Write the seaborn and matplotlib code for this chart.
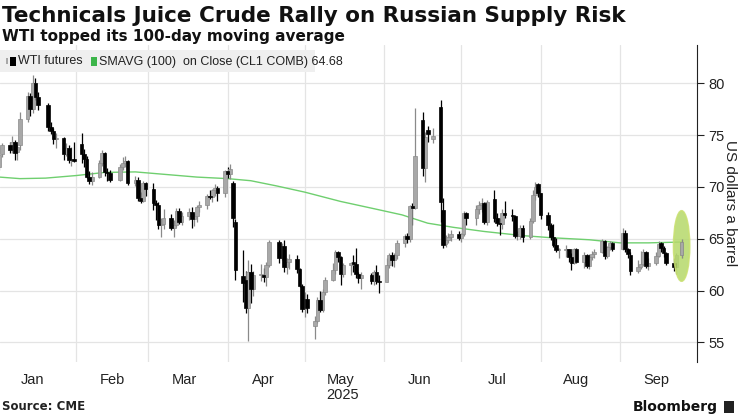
import seaborn as sns
import pandas as pd
import numpy as np
import matplotlib.pyplot as plt
import matplotlib.dates as mdates
from matplotlib.patches import Rectangle, Ellipse

# daily WTI candles (open, high, low, close)
dates = ['2025-01-02', '2025-01-03', '2025-01-06', '2025-01-07', '2025-01-08', '2025-01-09', '2025-01-10',
         '2025-01-13', '2025-01-14', '2025-01-15', '2025-01-16', '2025-01-17', '2025-01-21', '2025-01-22',
         '2025-01-23', '2025-01-24', '2025-01-27', '2025-01-28', '2025-01-29', '2025-01-30', '2025-01-31',
         '2025-02-03', '2025-02-04', '2025-02-05', '2025-02-06', '2025-02-07', '2025-02-10', '2025-02-11',
         '2025-02-12', '2025-02-13', '2025-02-14', '2025-02-18', '2025-02-19', '2025-02-20', '2025-02-21',
         '2025-02-24', '2025-02-25', '2025-02-26', '2025-02-27', '2025-02-28',
         '2025-03-03', '2025-03-04', '2025-03-05', '2025-03-06', '2025-03-07', '2025-03-10', '2025-03-11',
         '2025-03-12', '2025-03-13', '2025-03-14', '2025-03-17', '2025-03-18', '2025-03-19', '2025-03-20',
         '2025-03-21', '2025-03-24', '2025-03-25', '2025-03-26', '2025-03-27', '2025-03-28', '2025-03-31',
         '2025-04-01', '2025-04-02', '2025-04-03', '2025-04-04', '2025-04-07', '2025-04-08', '2025-04-09',
         '2025-04-10', '2025-04-11', '2025-04-14', '2025-04-15', '2025-04-16', '2025-04-17', '2025-04-21',
         '2025-04-22', '2025-04-23', '2025-04-24', '2025-04-25', '2025-04-28', '2025-04-29', '2025-04-30',
         '2025-05-01', '2025-05-02', '2025-05-05', '2025-05-06', '2025-05-07', '2025-05-08', '2025-05-09',
         '2025-05-12', '2025-05-13', '2025-05-14', '2025-05-15', '2025-05-16', '2025-05-19', '2025-05-20',
         '2025-05-21', '2025-05-22', '2025-05-23', '2025-05-27', '2025-05-28', '2025-05-29', '2025-05-30',
         '2025-06-02', '2025-06-03', '2025-06-04', '2025-06-05', '2025-06-06', '2025-06-09', '2025-06-10',
         '2025-06-11', '2025-06-12', '2025-06-13', '2025-06-16', '2025-06-17', '2025-06-18', '2025-06-20',
         '2025-06-23', '2025-06-24', '2025-06-25', '2025-06-26', '2025-06-27', '2025-06-30',
         '2025-07-01', '2025-07-02', '2025-07-03', '2025-07-07', '2025-07-08', '2025-07-09', '2025-07-10',
         '2025-07-11', '2025-07-14', '2025-07-15', '2025-07-16', '2025-07-17', '2025-07-18', '2025-07-21',
         '2025-07-22', '2025-07-23', '2025-07-24', '2025-07-25', '2025-07-28', '2025-07-29', '2025-07-30',
         '2025-07-31',
         '2025-08-01', '2025-08-04', '2025-08-05', '2025-08-06', '2025-08-07', '2025-08-08', '2025-08-11',
         '2025-08-12', '2025-08-13', '2025-08-14', '2025-08-15', '2025-08-18', '2025-08-19', '2025-08-20',
         '2025-08-21', '2025-08-22', '2025-08-25', '2025-08-26', '2025-08-27', '2025-08-28', '2025-08-29',
         '2025-09-02', '2025-09-03', '2025-09-04', '2025-09-05', '2025-09-08', '2025-09-09', '2025-09-10',
         '2025-09-11', '2025-09-12', '2025-09-15', '2025-09-16', '2025-09-17', '2025-09-18', '2025-09-19',
         '2025-09-22', '2025-09-23', '2025-09-25']

opens = [71.9, 73.2, 74.0, 73.7, 74.3, 73.4, 74.0, 76.6, 78.8, 77.5, 80.0, 78.7, 77.9, 75.8,
         75.4, 74.6, 74.7, 73.2, 73.8, 72.6, 72.7,
         74.1, 73.2, 72.7, 71.0, 70.6, 71.0, 72.3, 73.3, 71.4, 71.3, 70.7, 71.9, 72.3, 72.5,
         70.4, 70.7, 68.9, 68.6, 70.4,
         69.8, 68.4, 68.3, 66.3, 66.4, 67.0, 66.0, 66.3, 67.7, 66.6, 67.2, 67.6, 66.9, 67.2,
         68.1, 68.3, 69.1, 69.0, 69.7, 69.9, 69.4,
         71.5, 71.2, 70.4, 66.6, 61.4, 61.0, 58.3, 61.8, 60.1, 61.5, 61.5, 61.3, 62.5, 64.7,
         63.1, 64.3, 62.3, 62.8, 63.0, 62.1, 60.4,
         58.2, 59.2, 56.6, 57.1, 59.1, 58.1, 59.9, 61.0, 62.0, 63.7, 63.2, 61.6, 62.5, 62.7,
         62.6, 61.6, 61.2, 61.5, 60.9, 61.8, 60.9,
         60.8, 62.5, 63.4, 62.9, 63.4, 64.6, 65.3, 65.0, 68.2, 68.0, 76.5, 71.8, 75.5, 74.6,
         77.7, 67.8, 64.5, 64.9, 65.2, 65.5,
         65.1, 65.5, 67.5, 67.0, 67.9, 68.3, 68.4, 66.6, 68.8, 67.0, 66.5, 66.4, 67.5, 67.3,
         67.2, 65.3, 65.3, 66.0, 65.2, 66.7, 69.2, 70.3,
         69.4, 67.3, 66.3, 65.2, 64.4, 63.9, 63.9, 64.0, 63.2, 62.7, 64.0, 62.8, 63.4, 62.4,
         63.2, 63.5, 63.7, 64.8, 63.3, 64.2, 64.6,
         64.0, 65.6, 64.0, 63.4, 61.9, 62.3, 62.6, 63.7, 62.4, 62.7, 63.3, 64.6, 64.1, 63.6,
         62.7, 62.3, 63.4]

highs = [73.9, 74.2, 74.3, 74.9, 74.5, 74.1, 77.2, 79.2, 79.1, 80.8, 80.5, 79.2, 78.1, 76.3,
         75.7, 75.2, 74.8, 74.2, 74.0, 73.9, 74.3,
         75.2, 73.7, 73.0, 71.5, 71.4, 72.6, 73.6, 73.4, 71.8, 71.6, 72.2, 72.9, 73.0, 72.6,
         71.1, 71.0, 69.5, 70.6, 70.5,
         70.4, 68.7, 68.5, 67.0, 67.9, 67.4, 66.8, 68.0, 68.0, 67.6, 68.0, 68.1, 67.5, 68.3,
         68.6, 69.3, 69.7, 69.8, 70.3, 70.1, 71.6,
         71.9, 72.2, 70.6, 66.9, 63.9, 61.9, 62.9, 62.6, 61.9, 62.6, 62.2, 62.8, 64.9, 64.9,
         64.6, 64.9, 63.1, 63.5, 63.4, 62.2, 60.6,
         59.9, 59.7, 57.5, 59.4, 60.0, 60.1, 61.3, 62.7, 63.9, 63.8, 63.3, 62.7, 62.8, 63.4,
         64.1, 61.8, 61.8, 61.7, 62.0, 62.5, 61.5,
         63.1, 63.6, 63.7, 63.6, 64.9, 65.5, 65.6, 68.3, 68.4, 77.6, 77.2, 75.3, 75.9, 75.7,
         78.4, 68.9, 65.4, 65.6, 65.8, 65.7,
         65.6, 67.7, 67.6, 68.3, 68.6, 68.9, 68.5, 68.7, 69.7, 67.5, 67.0, 67.9, 68.6, 67.9,
         67.3, 65.7, 66.3, 66.3, 67.0, 69.7, 70.5, 70.4,
         69.4, 67.6, 66.5, 66.4, 65.1, 64.1, 64.4, 64.0, 63.6, 64.1, 64.1, 63.7, 63.5, 63.5,
         63.8, 64.0, 65.0, 64.9, 64.3, 64.8, 64.7,
         66.0, 65.8, 64.1, 63.7, 62.9, 63.8, 64.0, 63.8, 63.1, 63.7, 64.8, 64.7, 64.3, 63.7,
         63.1, 63.6, 65.0]

lows = [71.6, 72.9, 73.3, 73.3, 72.6, 72.6, 73.6, 76.3, 76.8, 77.1, 78.4, 77.4, 75.4, 75.1,
        74.1, 73.8, 72.6, 73.0, 72.3, 72.0, 72.4,
        72.3, 71.9, 70.9, 70.3, 70.2, 70.9, 72.0, 71.1, 70.6, 70.5, 70.6, 71.6, 71.9, 70.2,
        70.1, 68.6, 68.4, 68.5, 69.1,
        67.8, 66.8, 65.9, 65.2, 65.9, 65.8, 65.2, 66.1, 66.4, 66.3, 66.8, 66.0, 66.2, 66.6,
        67.6, 67.9, 68.8, 68.5, 69.1, 68.6, 69.0,
        70.9, 70.8, 66.1, 61.0, 58.9, 57.8, 55.1, 58.8, 59.5, 60.9, 60.8, 60.4, 62.3, 62.7,
        62.9, 61.8, 61.6, 62.1, 61.7, 60.3, 57.9,
        57.4, 57.8, 55.3, 56.9, 57.9, 57.9, 59.6, 60.9, 61.6, 62.8, 60.5, 61.3, 61.5, 61.8,
        61.2, 60.7, 60.1, 60.6, 60.5, 60.6, 59.8,
        60.8, 62.2, 62.4, 62.3, 63.0, 64.2, 64.6, 64.7, 66.3, 67.9, 71.1, 70.5, 74.3, 74.2,
        66.6, 64.1, 64.2, 64.6, 64.8, 64.9,
        64.7, 65.3, 66.3, 66.3, 67.4, 67.6, 66.4, 66.3, 66.6, 66.2, 65.4, 65.9, 67.0, 66.7,
        65.1, 64.9, 65.0, 64.7, 65.0, 66.5, 68.7, 69.0,
        66.9, 65.8, 64.9, 64.2, 63.7, 63.1, 63.2, 62.8, 62.0, 62.6, 62.7, 62.2, 62.2, 62.1,
        62.9, 63.1, 63.6, 63.0, 63.1, 63.9, 63.8,
        63.9, 63.7, 63.1, 61.5, 61.7, 62.1, 62.4, 62.2, 62.0, 62.5, 63.2, 63.7, 63.2, 62.5,
        61.9, 61.6, 63.1]

closes = [73.1, 74.0, 73.6, 74.3, 73.3, 73.9, 76.6, 78.8, 77.5, 80.0, 78.7, 77.9, 75.8, 75.4,
          74.6, 74.7, 73.2, 73.8, 72.6, 72.7, 72.5,
          73.2, 72.7, 71.0, 70.6, 71.0, 72.3, 73.3, 71.4, 71.3, 70.7, 71.9, 72.3, 72.5, 70.4,
          70.7, 68.9, 68.6, 70.4, 69.8,
          68.4, 68.3, 66.3, 66.4, 67.0, 66.0, 66.3, 67.7, 66.6, 67.2, 67.6, 66.9, 67.2, 68.1,
          68.3, 69.1, 69.0, 69.7, 69.9, 69.4, 71.5,
          71.2, 71.7, 67.0, 62.0, 60.7, 58.3, 61.8, 60.1, 61.5, 61.5, 61.3, 62.5, 64.7, 63.1,
          64.3, 62.3, 62.8, 63.0, 62.1, 60.4, 58.2,
          59.2, 58.3, 57.1, 59.1, 58.1, 59.9, 61.0, 62.0, 63.7, 63.2, 61.6, 62.5, 62.7, 62.6,
          61.6, 61.2, 61.5, 60.9, 61.8, 60.9, 60.8,
          62.5, 63.4, 62.9, 63.4, 64.6, 65.3, 65.0, 68.2, 68.0, 73.0, 71.8, 74.8, 75.1, 74.9,
          68.5, 64.4, 64.9, 65.2, 65.5, 65.1,
          65.5, 67.5, 67.0, 67.9, 68.3, 68.4, 66.6, 68.5, 67.0, 66.5, 66.4, 67.5, 67.3, 67.2,
          65.3, 65.3, 66.0, 65.2, 66.7, 69.2, 70.0, 69.4,
          67.3, 66.3, 65.2, 64.4, 63.9, 63.9, 64.0, 63.2, 62.7, 64.0, 62.8, 63.4, 62.4, 63.2,
          63.5, 63.7, 64.8, 63.3, 64.2, 64.6, 64.0,
          65.6, 64.0, 63.5, 61.9, 62.3, 62.6, 63.7, 62.4, 62.7, 63.3, 64.5, 64.1, 63.6, 62.7,
          62.3, 63.4, 64.7]

# 100-day moving average
sma_dates = ['2025-01-02', '2025-01-10', '2025-01-20', '2025-02-01', '2025-02-12', '2025-02-24',
             '2025-03-08', '2025-03-20', '2025-04-01', '2025-04-10', '2025-04-20', '2025-05-01',
             '2025-05-15', '2025-05-28', '2025-06-08', '2025-06-18', '2025-06-28', '2025-07-10',
             '2025-07-25', '2025-08-05', '2025-08-20', '2025-09-01', '2025-09-12', '2025-09-25']
sma_values = [70.95, 70.8, 70.85, 71.1, 71.4, 71.45, 71.2, 70.95, 70.8, 70.6, 70.1, 69.5,
              68.6, 67.9, 67.3, 66.5, 66.1, 65.7, 65.3, 65.1, 64.9, 64.6, 64.6, 64.68]

df = pd.DataFrame({'date': pd.to_datetime(dates), 'open': opens, 'high': highs,
                   'low': lows, 'close': closes})
sma = pd.DataFrame({'date': pd.to_datetime(sma_dates), 'sma': sma_values})

sns.set_style('white')
plt.rcParams['font.family'] = ['Liberation Sans', 'DejaVu Sans']

W, H = 740, 416
fig = plt.figure(figsize=(W / 100, H / 100), dpi=100)
ax = fig.add_axes([0, (H - 362) / H, 697 / W, (362 - 45) / H])

def fx(x):
    return x / W

def fy(y):
    return 1 - y / H

# gridlines
for v in range(55, 85, 5):
    ax.axhline(v, color='#e4e4e4', lw=0.9, zorder=0)
for m in range(2, 10):
    ax.axvline(pd.Timestamp(2025, m, 1), color='#e4e4e4', lw=0.9, zorder=0)

# moving average
sns.lineplot(data=sma, x='date', y='sma', ax=ax, color='#6fcf6f', lw=1.0, zorder=2)

# candles
up = df['close'] >= df['open']
for is_up, col, edge in [(True, '#a8a8a8', '#8a8a8a'), (False, '#000000', '#000000')]:
    d = df[up == is_up]
    ax.vlines(d['date'], d['low'], d['high'], color=edge, lw=0.9, zorder=3)
    body = (d['close'] - d['open']).abs().clip(lower=0.12)
    ax.bar(d['date'], body, bottom=np.minimum(d['open'], d['close']), width=1.4,
           color=col, edgecolor=edge, lw=0.5, zorder=4)

# highlight ellipse around latest candle
ax.add_patch(Ellipse((mdates.date2num(pd.Timestamp('2025-09-25')), 64.3), width=6.3, height=6.8,
                     facecolor='#b5d96a', edgecolor='#c8e070', alpha=0.85, lw=1.2, zorder=5))
last = df.iloc[-1]
ax.vlines(last['date'], last['low'], last['high'], color='#8a8a8a', lw=0.9, zorder=6)
ax.bar(last['date'], last['close'] - last['open'], bottom=last['open'], width=1.4,
       color='#a8a8a8', edgecolor='#8a8a8a', lw=0.5, zorder=6)

ax.set_xlim(pd.Timestamp('2025-01-02 05:00'), pd.Timestamp('2025-10-01'))
ax.set_ylim(53.1, 83.7)

ax.yaxis.tick_right()
ax.set_yticks(range(55, 85, 5))
ax.tick_params(axis='y', which='major', length=5, width=0.8, color='#222222', labelsize=10.5,
               labelcolor='#222222', pad=3, right=True, left=False)
ax.set_ylabel('US dollars a barrel', rotation=270, fontsize=11, color='#222222', va='center')
ax.yaxis.set_label_position('right')
ax.yaxis.set_label_coords(1.0575, 0.5)

ax.xaxis.set_major_locator(mdates.MonthLocator())
ax.xaxis.set_major_formatter(plt.NullFormatter())
ax.xaxis.set_minor_locator(mdates.MonthLocator(bymonthday=15))
ax.xaxis.set_minor_formatter(mdates.DateFormatter('%b'))
ax.tick_params(axis='x', which='major', length=4, color='#d8d8d8', width=0.8)
ax.tick_params(axis='x', which='minor', length=0, labelsize=10.5, labelcolor='#222222', pad=8)

for s in ['left', 'top', 'bottom']:
    ax.spines[s].set_visible(False)
ax.spines['right'].set_color('#222222')
ax.spines['right'].set_linewidth(0.8)
ax.set_xlabel('')

fig.text(fx(343), fy(395), '2025', ha='center', va='center', fontsize=10.5, color='#222222')

# titles
fig.text(fx(2), fy(16), 'Technicals Juice Crude Rally on Russian Supply Risk', fontsize=15.5,
         fontweight='bold', va='center', ha='left', color='#111111', family='DejaVu Sans')
fig.text(fx(2), fy(37), 'WTI topped its 100-day moving average', fontsize=11,
         fontweight='bold', va='center', ha='left', color='#111111', family='DejaVu Sans')

# legend box
fig.patches.append(Rectangle((0, fy(72)), fx(315), fy(50) - fy(72), transform=fig.transFigure,
                             facecolor='#efefef', edgecolor='none', zorder=10))
fig.patches.append(Rectangle((fx(10), fy(66)), fx(6), fy(57) - fy(66), transform=fig.transFigure,
                             facecolor='#000000', edgecolor='none', zorder=11))
fig.patches.append(Rectangle((fx(6), fy(64)), fx(1.5), fy(58) - fy(64), transform=fig.transFigure,
                             facecolor='#a8a8a8', edgecolor='none', zorder=11))
fig.text(fx(18), fy(61.5), 'WTI futures', fontsize=9, va='center', ha='left', color='#222222',
         zorder=12)
fig.patches.append(Rectangle((fx(91), fy(66)), fx(6), fy(57) - fy(66), transform=fig.transFigure,
                             facecolor='#3cb54a', edgecolor='none', zorder=11))
fig.text(fx(99), fy(61.5), 'SMAVG (100)  on Close (CL1 COMB) 64.68', fontsize=9, va='center',
         ha='left', color='#222222', zorder=12)

# footer
fig.text(fx(2), fy(407), 'Source: CME', fontsize=8.5, fontweight='bold', va='center',
         ha='left', color='#222222', family='DejaVu Sans')
fig.text(fx(718), fy(407), 'Bloomberg', fontsize=10, fontweight='bold', va='center',
         ha='right', color='#111111', family='DejaVu Sans')
fig.patches.append(Rectangle((fx(724), fy(413)), fx(10), fy(401) - fy(413), transform=fig.transFigure,
                             facecolor='#222222', edgecolor='none', zorder=11))

fig.savefig('out.png', dpi=100)
